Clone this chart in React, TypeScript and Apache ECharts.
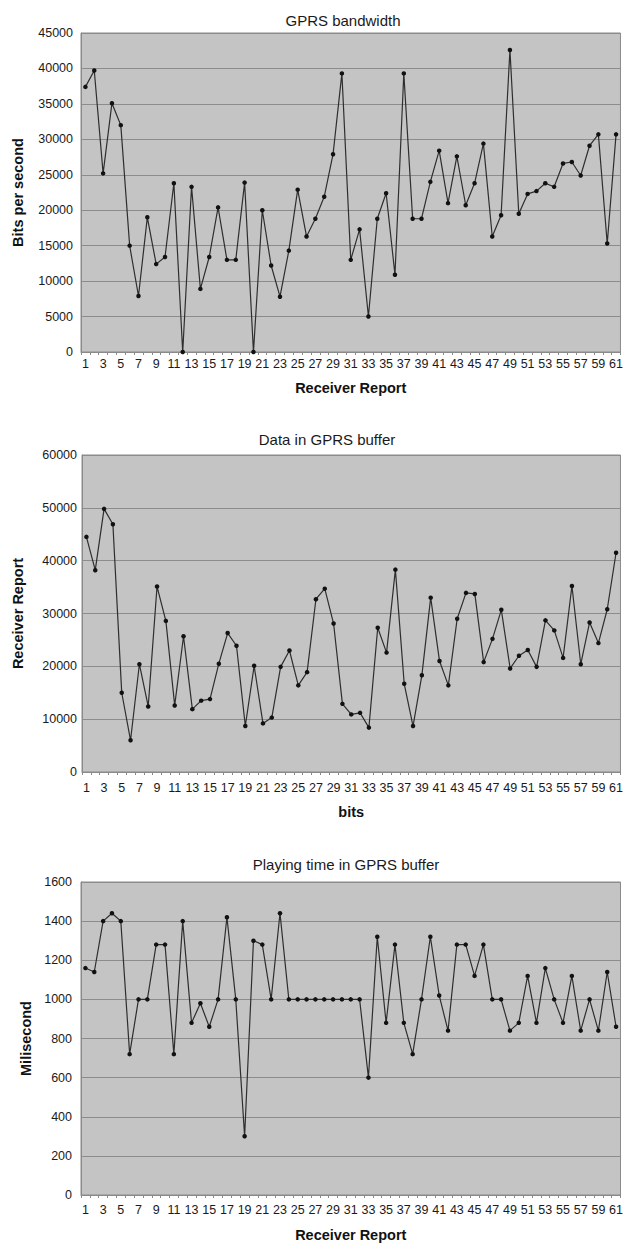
import React, { useEffect, useRef } from "react";
import * as echarts from "echarts";

const reports = [
  "1","2","3","4","5","6","7","8","9","10","11","12","13","14","15","16","17","18","19","20",
  "21","22","23","24","25","26","27","28","29","30","31","32","33","34","35","36","37","38","39","40",
  "41","42","43","44","45","46","47","48","49","50","51","52","53","54","55","56","57","58","59","60","61",
];

const bandwidth = [
  37400, 39700, 25200, 35100, 32000, 15000, 7900, 19000, 12400, 13400,
  23800, 0, 23300, 8900, 13400, 20400, 13000, 13000, 23900, 0,
  20000, 12200, 7800, 14300, 22900, 16300, 18800, 21900, 27900, 39300,
  13000, 17300, 5000, 18800, 22400, 10900, 39300, 18800, 18800, 24000,
  28400, 21000, 27600, 20700, 23800, 29400, 16300, 19300, 42600, 19500,
  22300, 22700, 23800, 23300, 26600, 26800, 24900, 29100, 30700, 15300, 30700,
];

const bufferData = [
  44500, 38200, 49800, 46900, 15000, 6000, 20400, 12400, 35100, 28600,
  12600, 25700, 11900, 13500, 13800, 20500, 26300, 23900, 8700, 20100,
  9200, 10300, 19900, 23000, 16400, 18900, 32700, 34700, 28100, 12900,
  10900, 11200, 8400, 27300, 22600, 38300, 16700, 8700, 18300, 33000,
  21000, 16400, 29000, 33900, 33700, 20800, 25200, 30700, 19600, 22000,
  23100, 19900, 28700, 26800, 21600, 35200, 20400, 28300, 24400, 30800, 41500,
];

const playingTime = [
  1160, 1140, 1400, 1440, 1400, 720, 1000, 1000, 1280, 1280,
  720, 1400, 880, 980, 860, 1000, 1420, 1000, 300, 1300,
  1280, 1000, 1440, 1000, 1000, 1000, 1000, 1000, 1000, 1000,
  1000, 1000, 600, 1320, 880, 1280, 880, 720, 1000, 1320,
  1020, 840, 1280, 1280, 1120, 1280, 1000, 1000, 840, 880,
  1120, 880, 1160, 1000, 880, 1120, 840, 1000, 840, 1140, 860,
];

const titles = ["GPRS bandwidth", "Data in GPRS buffer", "Playing time in GPRS buffer"];
const yNames = ["Bits per second", "Receiver Report", "Milisecond"];
const xNames = ["Receiver Report", "bits", "Receiver Report"];
const yMax = [45000, 60000, 1600];
const yStep = [5000, 10000, 200];

const FONT = '"Liberation Sans", Arial, Helvetica, sans-serif';

export default function App() {
  const ref = useRef<HTMLDivElement>(null);

  useEffect(() => {
    const chart = echarts.init(ref.current!, null, { renderer: "svg" });

    const grids = [
      { left: 81, top: 33, width: 541, height: 319 },
      { left: 82, top: 455, width: 541, height: 317 },
      { left: 81, top: 882, width: 542, height: 314 },
    ];
    const titlePos = [
      [343, 20.5],
      [327, 439],
      [346, 864],
    ];
    const yNameGap = [56, 57, 44];
    const yLabelMargin = [8, 5, 9];
    const xLabelMargin = [5, 9, 8];
    const xNameGap = [28, 32, 32];
    const datasets = [bandwidth, bufferData, playingTime];

    const option: any = {
      animation: false,
      backgroundColor: "#ffffff",
      textStyle: { fontFamily: FONT },
      grid: grids.map((g) => ({
        ...g,
        show: true,
        backgroundColor: "#c4c4c4",
        borderColor: "#8a8a8a",
        borderWidth: 1,
        containLabel: false,
      })),
      graphic: titles.map((t, i) => ({
        type: "text",
        x: titlePos[i][0],
        y: titlePos[i][1],
        style: {
          text: t,
          fill: "#1a1a1a",
          font: `15px ${FONT}`,
          align: "center",
          verticalAlign: "middle",
        },
      })),
      xAxis: datasets.map((_, i) => ({
        type: "category",
        gridIndex: i,
        data: reports,
        boundaryGap: true,
        name: xNames[i],
        nameLocation: "middle",
        nameGap: xNameGap[i],
        nameTextStyle: {
          fontFamily: FONT,
          fontSize: 14.5,
          fontWeight: "bold",
          color: "#111",
        },
        axisLine: { show: true, lineStyle: { color: "#8a8a8a", width: 1 } },
        axisTick: {
          show: true,
          interval: 0,
          length: 3,
          lineStyle: { color: "#8a8a8a" },
        },
        axisLabel: {
          interval: 1,
          margin: xLabelMargin[i],
          fontFamily: FONT,
          fontSize: 12.5,
          color: "#1a1a1a",
        },
        splitLine: { show: false },
      })),
      yAxis: datasets.map((_, i) => ({
        type: "value",
        gridIndex: i,
        min: 0,
        max: yMax[i],
        interval: yStep[i],
        name: yNames[i],
        nameLocation: "middle",
        nameGap: yNameGap[i],
        nameTextStyle: {
          fontFamily: FONT,
          fontSize: 14.5,
          fontWeight: "bold",
          color: "#111",
        },
        axisLine: { show: true, lineStyle: { color: "#8a8a8a", width: 1 } },
        axisTick: { show: false },
        axisLabel: {
          margin: yLabelMargin[i],
          fontFamily: FONT,
          fontSize: 12.5,
          color: "#1a1a1a",
          formatter: (v: number) => String(v),
        },
        splitLine: { show: true, lineStyle: { color: "#8c8c8c", width: 1 } },
      })),
      series: datasets.map((d, i) => ({
        type: "line",
        xAxisIndex: i,
        yAxisIndex: i,
        data: d,
        symbol: "circle",
        symbolSize: 4.5,
        showAllSymbol: true,
        lineStyle: { color: "#2e2e2e", width: 1.2 },
        itemStyle: { color: "#111111", borderWidth: 0 },
        emphasis: { disabled: true },
      })),
    };

    chart.setOption(option);
    return () => chart.dispose();
  }, []);

  return (
    <div
      ref={ref}
      style={{ position: "absolute", left: 0, top: 0, width: 626, height: 1243 }}
    />
  );
}
